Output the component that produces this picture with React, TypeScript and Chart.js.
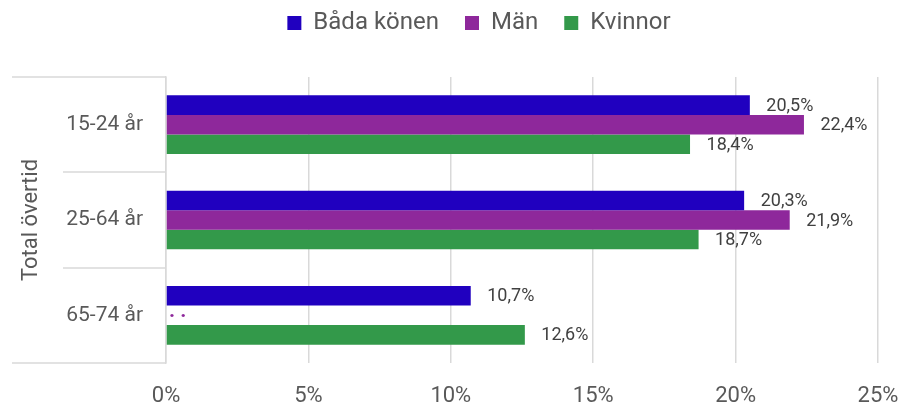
import React, { useEffect, useRef } from "react";
import { Chart, registerables } from "chart.js";

Chart.register(...registerables);

const categories = ["15-24 år", "25-64 år", "65-74 år"];
const groupLabel = "Total övertid";
const seriesNames = ["Båda könen", "Män", "Kvinnor"];
const bothSexes = [20.5, 20.3, 10.7];
const men: (number | null)[] = [22.4, 21.9, null];
const women = [18.4, 18.7, 12.6];
const xTicks = [0, 5, 10, 15, 20, 25];
const missingLabel = ". .";

const colors = ["#2000BF", "#8E289B", "#33994A"];
const FONT = "Roboto";
const GRID = "#d9d9d9";

const fmt = (v: number) => v.toFixed(1).replace(".", ",") + "%";

export default function App() {
  const ref = useRef<HTMLCanvasElement | null>(null);
  useEffect(() => {
    const canvas = ref.current!;
    const layoutPlugin = {
      id: "layoutTweak",
      afterLayout(chart: any) {
        const lg = chart.legend;
        if (lg) {
          lg.top = -15;
          lg.left += 40;
          lg.right += 40;
        }
      },
    };
    const decor = {
      id: "decor",
      afterDraw(chart: any) {
        const ctx = chart.ctx;
        const { top, bottom, left } = chart.chartArea;
        const n = categories.length;
        const h = (bottom - top) / n;
        ctx.save();
        ctx.strokeStyle = GRID;
        ctx.lineWidth = 1.5;
        for (let i = 0; i <= n; i++) {
          const y = Math.round(top + h * i);
          const x0 = i === 0 || i === n ? 12 : 63;
          ctx.beginPath();
          ctx.moveTo(x0, y);
          ctx.lineTo(left, y);
          ctx.stroke();
        }
        // group label
        ctx.fillStyle = "#595959";
        ctx.font = `22px ${FONT}`;
        ctx.textAlign = "center";
        ctx.textBaseline = "middle";
        ctx.translate(31, (top + bottom) / 2);
        ctx.rotate(-Math.PI / 2);
        ctx.fillText(groupLabel, 0, 0);
        ctx.restore();

        // data labels
        ctx.save();
        ctx.textAlign = "left";
        ctx.textBaseline = "middle";
        chart.data.datasets.forEach((ds: any, di: number) => {
          const meta = chart.getDatasetMeta(di);
          meta.data.forEach((el: any, i: number) => {
            const v = ds.data[i];
            if (v === null || v === undefined) {
              ctx.fillStyle = colors[di];
              ctx.font = `bold 21px ${FONT}`;
              ctx.fillText(missingLabel, left + 3, el.y - 4);
              return;
            }
            ctx.fillStyle = "#404040";
            ctx.font = `18px ${FONT}`;
            ctx.fillText(fmt(v), el.x + 16.5, el.y + 1);
          });
        });
        ctx.restore();
      },
    };
    const chart = new Chart(canvas, {
      type: "bar",
      data: {
        labels: categories,
        datasets: [
          { label: seriesNames[0], data: bothSexes, backgroundColor: colors[0] },
          { label: seriesNames[1], data: men, backgroundColor: colors[1] },
          { label: seriesNames[2], data: women, backgroundColor: colors[2] },
        ].map((d) => ({ ...d, categoryPercentage: 0.615, barPercentage: 1, borderWidth: 0 })),
      },
      options: {
        indexAxis: "y",
        animation: false,
        responsive: false,
        maintainAspectRatio: false,
        layout: { padding: { top: 17, right: 27, left: 0, bottom: 0 } },
        plugins: {
          legend: {
            position: "top",
            labels: {
              boxWidth: 14,
              boxHeight: 14,
              padding: 26,
              color: "#595959",
              font: { family: FONT, size: 24 },
            },
          },
          tooltip: { enabled: false },
        },
        scales: {
          x: {
            type: "linear",
            min: xTicks[0],
            max: xTicks[xTicks.length - 1],
            afterBuildTicks: (s: any) => {
              s.ticks = xTicks.map((v) => ({ value: v }));
            },
            afterFit: (s: any) => {
              s.height = 45;
              s.paddingLeft = 0;
              s.paddingRight = 0;
            },
            grid: { color: GRID, lineWidth: 1.5, drawTicks: false },
            border: { display: false },
            ticks: {
              padding: 20,
              color: "#595959",
              font: { family: FONT, size: 22 },
              callback: (v: any) => v + "%",
            },
          },
          y: {
            afterFit: (s: any) => {
              s.width = 166;
              s.paddingTop = 0;
              s.paddingBottom = 0;
            },
            grid: { display: false, drawTicks: false },
            border: { display: true, color: GRID, width: 1.5 },
            ticks: {
              padding: 23,
              color: "#595959",
              font: { family: FONT, size: 21 },
            },
          },
        },
      },
      plugins: [layoutPlugin, decor],
    } as any);
    return () => chart.destroy();
  }, []);
  return (
    <div style={{ position: "fixed", left: 0, top: 0, width: 905, height: 408, background: "#fff" }}>
      <canvas ref={ref} width={905} height={408} style={{ width: 905, height: 408 }} />
    </div>
  );
}
